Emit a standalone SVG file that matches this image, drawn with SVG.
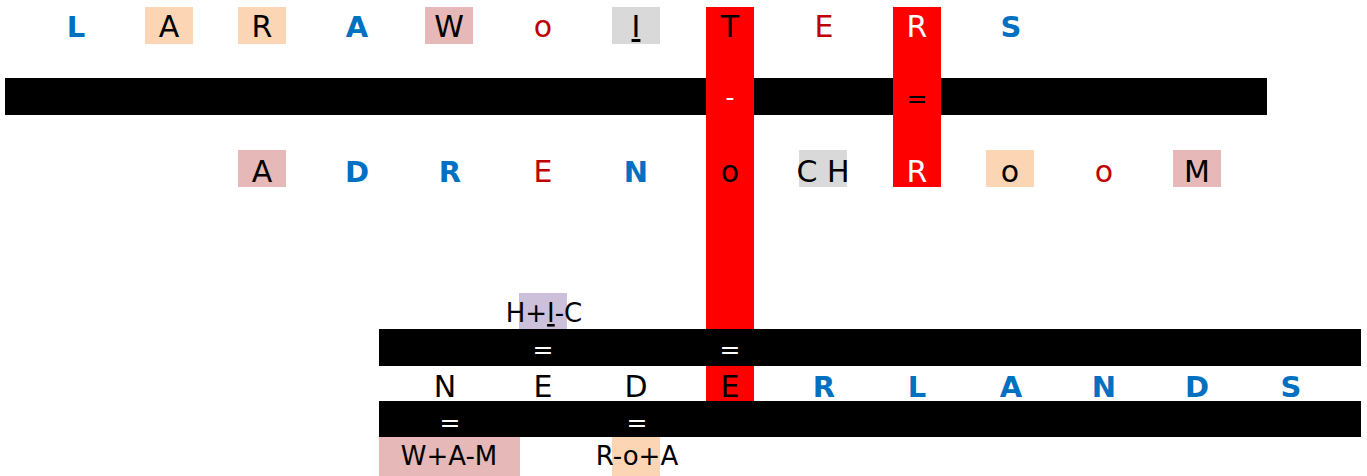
<svg xmlns="http://www.w3.org/2000/svg" width="1367" height="476" viewBox="0 0 1367 476">
<style>
text{font-family:"DejaVu Sans","Verdana",sans-serif;text-anchor:middle}
.m{font-size:30px;fill:#000}
.b{font-size:29px;font-weight:bold;fill:#0070c0}
.r{font-size:30px;fill:#c00000}
.w{fill:#fff}
.s{font-size:26px;fill:#000}
.eq{font-size:25px}
.bar{fill:#000}
.red{fill:#ff0000}
.peach{fill:#fcd5b4}
.pink{fill:#e6b8b7}
.gray{fill:#d9d9d9}
.purple{fill:#ccc0da}
</style>
<rect width="1367" height="476" fill="#fff"/>
<g id="bars">
<rect class="bar" x="5" y="78" width="1262" height="37"/>
<rect class="red" x="706" y="7" width="48" height="394"/>
<rect class="red" x="893" y="7" width="48" height="180"/>
<rect class="bar" x="379" y="329" width="982" height="37"/>
<rect class="bar" x="379" y="401" width="982" height="36"/>
<text class="eq w" x="730" y="106">-</text>
<text class="eq" x="917" y="107">=</text>
<text class="eq w" x="543" y="358">=</text>
<text class="eq w" x="730" y="358">=</text>
<text class="eq w" x="450" y="431">=</text>
<text class="eq w" x="637" y="431">=</text>
</g>
<g id="row1">
<text class="b" x="76" y="37">L</text>
<g id="r1-A"><rect class="peach" x="145" y="7" width="48" height="37"/><text class="m" x="169" y="37">A</text></g>
<g id="r1-R"><rect class="peach" x="238" y="7" width="48" height="37"/><text class="m" x="262" y="37">R</text></g>
<text class="b" x="357" y="37">A</text>
<g id="r1-W"><rect class="pink" x="425" y="7" width="48" height="37"/><text class="m" x="449" y="37">W</text></g>
<text class="r" x="543" y="37">o</text>
<g id="r1-I"><rect class="gray" x="612" y="7" width="48" height="37"/><text class="m" x="636" y="37" text-decoration="underline">I</text></g>
<text class="m" x="730" y="37">T</text>
<text class="r" x="824" y="37">E</text>
<text class="m w" x="917" y="37">R</text>
<text class="b" x="1011" y="37">S</text>
</g>
<g id="row2">
<g id="r2-A"><rect class="pink" x="238" y="150" width="48" height="37"/><text class="m" x="262" y="182">A</text></g>
<text class="b" x="357" y="182">D</text>
<text class="b" x="450" y="182">R</text>
<text class="r" x="543" y="182">E</text>
<text class="b" x="636" y="182">N</text>
<text class="m" x="730" y="182">o</text>
<g id="r2-CH"><rect class="gray" x="799" y="150" width="48" height="37"/><text class="m" x="823" y="182">C H</text></g>
<text class="m w" x="917" y="182">R</text>
<g id="r2-o"><rect class="peach" x="986" y="150" width="48" height="37"/><text class="m" x="1010" y="182">o</text></g>
<text class="r" x="1104" y="182">o</text>
<g id="r2-M"><rect class="pink" x="1173" y="150" width="48" height="37"/><text class="m" x="1197" y="182">M</text></g>
</g>
<g id="row3">
<text class="m" x="445" y="397">N</text>
<text class="m" x="543" y="397">E</text>
<text class="m" x="636" y="397">D</text>
<text class="m" x="730" y="397">E</text>
<text class="b" x="824" y="397">R</text>
<text class="b" x="917" y="397">L</text>
<text class="b" x="1011" y="397">A</text>
<text class="b" x="1104" y="397">N</text>
<text class="b" x="1197" y="397">D</text>
<text class="b" x="1291" y="397">S</text>
</g>
<g id="hic"><rect class="purple" x="519" y="293" width="48" height="36"/><text class="s" x="544" y="322">H+<tspan text-decoration="underline">I</tspan>-C</text></g>
<g id="wam"><rect class="pink" x="379" y="437" width="141" height="39"/><text class="s" x="449" y="465">W+A-M</text></g>
<g id="roa"><rect class="peach" x="612" y="437" width="48" height="39"/><text class="s" x="637" y="465">R-o+A</text></g>
</svg>
